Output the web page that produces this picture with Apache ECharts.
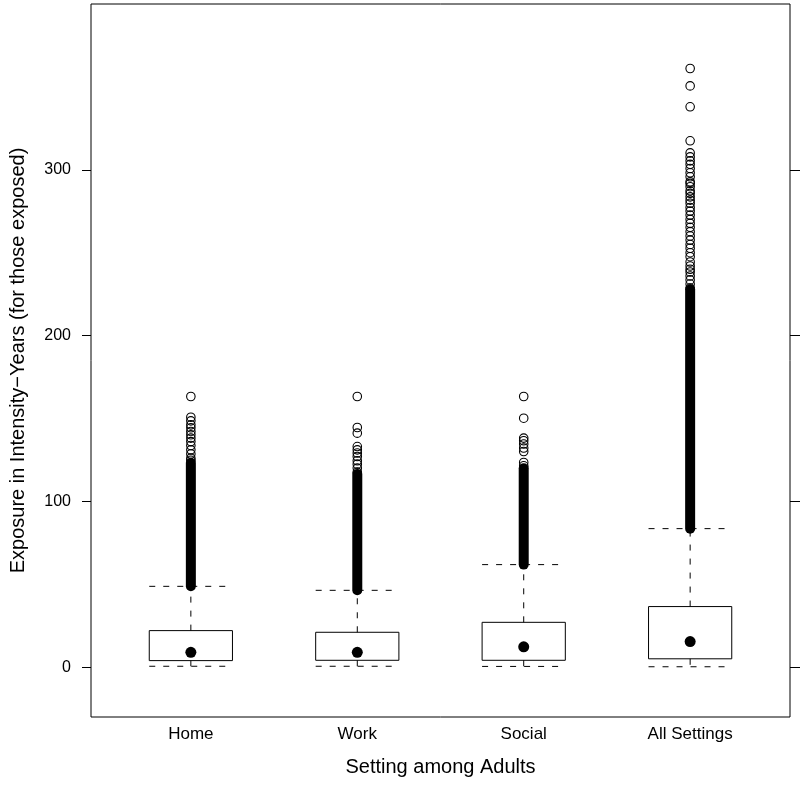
<!DOCTYPE html>
<html><head><meta charset="utf-8">
<script src="https://cdn.jsdelivr.net/npm/echarts@6/dist/echarts.min.js"></script>
<style>html,body{margin:0;padding:0;background:#fff}#c{width:800px;height:788px}</style>
</head><body><div id="c"></div>
<script>
const categories = ['Home', 'Work', 'Social', 'All Settings'];
const lowerWhisker = [0.6, 0.6, 0.5, 0.3];
const q1 = [4.0, 4.2, 4.2, 5.1];
const median = [9.0, 9.0, 12.3, 15.5];
const q3 = [22.1, 21.1, 27.1, 36.6];
const upperWhisker = [48.8, 46.4, 61.9, 83.6];
// range of the outliers so tightly packed that they merge into a solid column
const denseOutlierRange = [[48.8, 123.3], [46.4, 116.5], [61.9, 120.0], [83.6, 228.0]];
const outliersHome = [163.3, 150.8, 148.6, 146.2, 144.4, 142.2, 140.2, 138.2, 136.1, 133.7, 131.1, 128.6, 126.1, 124.8];
const outliersWork = [163.3, 144.6, 141.2, 133.1, 131.1, 129.2, 127.1, 124.5, 122.5, 120.1, 117.7];
const outliersSocial = [163.3, 150.2, 138.2, 136.6, 134.6, 132.2, 130.1, 123.5, 121.5];
const outliersAll = [361.1, 350.6, 338.0, 317.5, 310.2, 307.8, 305.4, 303.3, 300.8, 298.2, 295.8, 292.8, 291.8,
  289.8, 287.3, 285.8, 283.7, 281.7, 279.8, 277.3, 275.1, 272.7, 270.1, 267.7, 265.3, 262.7, 260.1, 257.6,
  255.0, 252.7, 250.0, 247.6, 244.4, 242.0, 240.0, 238.4, 236.0, 233.6, 231.1, 228.7];
const yTicks = [0, 100, 200, 300];
const yMin = -30, yMax = 400;
const xLabel = 'Setting among Adults';
const yLabel = 'Exposure in Intensity\u2212Years (for those exposed)';

const FONT = 'Liberation Sans, Arial, Helvetica, sans-serif';
const outlierLists = [outliersHome, outliersWork, outliersSocial, outliersAll];
const outlierData = [];
outlierLists.forEach((arr, i) => arr.forEach(v => outlierData.push([i + 1, v])));
const boxData = categories.map((c, i) => [i + 1, lowerWhisker[i], q1[i], median[i], q3[i], upperWhisker[i]]);
const medianData = categories.map((c, i) => [i + 1, median[i]]);
const denseData = denseOutlierRange.map((r, i) => [i + 1, r[0], r[1]]);

const chart = echarts.init(document.getElementById('c'), null, {renderer: 'canvas'});
const HW = 0.25;
const dashStyle = {stroke: '#000', lineWidth: 1, lineDash: [6, 8], fill: null};
chart.setOption({
  animation: false,
  backgroundColor: '#fff',
  grid: {left: 91, right: 10, top: 4, bottom: 71, show: true, borderColor: '#000', borderWidth: 1, backgroundColor: 'transparent'},
  xAxis: {
    type: 'value', min: 0.4, max: 4.6,
    name: xLabel, nameLocation: 'middle', nameGap: 40,
    nameTextStyle: {fontFamily: FONT, fontSize: 20, color: '#000'},
    axisLine: {show: false}, axisTick: {show: false}, splitLine: {show: false},
    axisLabel: {
      customValues: [1, 2, 3, 4], margin: 9,
      fontFamily: FONT, fontSize: 17, color: '#000',
      formatter: v => categories[Math.round(v) - 1]
    }
  },
  yAxis: [{
    type: 'value', min: yMin, max: yMax, position: 'left',
    name: yLabel, nameLocation: 'middle', nameGap: 63,
    nameTextStyle: {fontFamily: FONT, fontSize: 20, color: '#000'},
    axisLine: {show: false}, splitLine: {show: false},
    axisTick: {show: true, customValues: yTicks, length: 9, inside: false, lineStyle: {color: '#000', width: 1}},
    axisLabel: {customValues: yTicks, margin: 20, fontFamily: FONT, fontSize: 16, color: '#000'}
  }, {
    type: 'value', min: yMin, max: yMax, position: 'right',
    axisLine: {show: false}, splitLine: {show: false},
    axisTick: {show: true, customValues: yTicks, length: 10, inside: false, lineStyle: {color: '#000', width: 1}},
    axisLabel: {show: false}
  }],
  series: [
    {
      type: 'custom', data: denseData, z: 2,
      renderItem: (params, api) => {
        const x = api.value(0);
        const a = api.coord([x, api.value(1)]);
        const b = api.coord([x, api.value(2)]);
        return {type: 'line', shape: {x1: a[0], y1: a[1], x2: b[0], y2: b[1]},
          style: {stroke: '#000', lineWidth: 10, lineCap: 'round'}};
      }
    },
    {
      type: 'scatter', data: outlierData, symbol: 'circle', symbolSize: 8.5, z: 3,
      itemStyle: {color: 'rgba(0,0,0,0)', borderColor: '#000', borderWidth: 1.1, opacity: 1}
    },
    {
      type: 'custom', data: boxData, z: 4,
      renderItem: (params, api) => {
        const x = api.value(0);
        const lw = api.value(1), a = api.value(2), b = api.value(4), uw = api.value(5);
        const L = (x1, v1, x2, v2, style) => {
          const p = api.coord([x1, v1]), q = api.coord([x2, v2]);
          return {type: 'line', shape: {x1: p[0], y1: p[1], x2: q[0], y2: q[1]}, style};
        };
        const tl = api.coord([x - HW, b]), br = api.coord([x + HW, a]);
        return {type: 'group', children: [
          L(x, b, x, uw, dashStyle),
          L(x - HW, uw, x + HW, uw, dashStyle),
          L(x, a, x, lw, dashStyle),
          L(x - HW, lw, x + HW, lw, dashStyle),
          {type: 'rect', shape: {x: tl[0], y: tl[1], width: br[0] - tl[0], height: br[1] - tl[1]},
            style: {fill: 'rgba(0,0,0,0)', stroke: '#000', lineWidth: 1}}
        ]};
      }
    },
    {
      type: 'scatter', data: medianData, symbol: 'circle', symbolSize: 11, z: 5,
      itemStyle: {color: '#000', borderWidth: 0, opacity: 1}
    }
  ]
});
</script></body></html>
